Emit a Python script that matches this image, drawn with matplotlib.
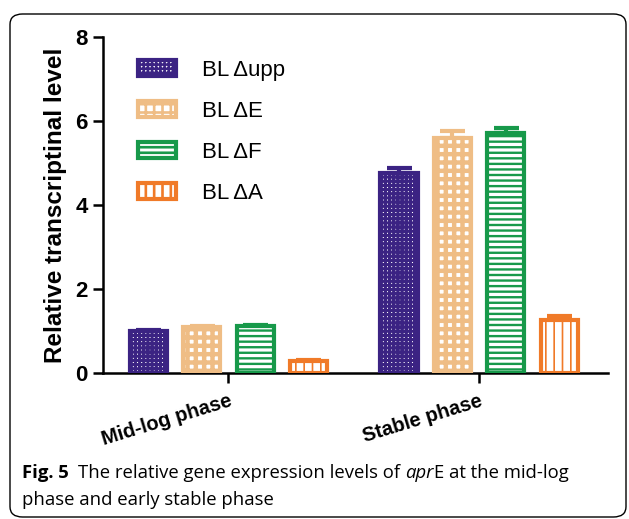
import matplotlib
matplotlib.use('Agg')
import matplotlib.pyplot as plt
import matplotlib.transforms as mtransforms
import numpy as np
from matplotlib.patches import FancyBboxPatch

# ---------------- data ----------------
phases = ['Mid-log phase', 'Stable phase']
strains = ['BL \u0394upp', 'BL \u0394E', 'BL \u0394F', 'BL \u0394A']
upp_vals = [0.99, 4.77]
e_vals = [1.09, 5.60]
f_vals = [1.11, 5.72]
a_vals = [0.28, 1.27]
upp_err = [0.03, 0.11]
e_err = [0.04, 0.16]
f_err = [0.04, 0.11]
a_err = [0.03, 0.09]
yticks = [0, 2, 4, 6, 8]
ylabel = 'Relative transcriptinal level'

# ---------------- style ----------------
colors = ['#3b2383', '#efbd85', '#17994a', '#f07a28']
hatches = ['++++', '++', '---', '||']
hatch_lw = [2.2, 3.2, 1.7, 1.2]

W, H = 629, 519
fig = plt.figure(figsize=(W / 100, H / 100), dpi=100)
fig.patch.set_facecolor('white')

# rounded frame around the figure
frame = FancyBboxPatch((10 / W, 1 - 517 / H), (626 - 10) / W, (517 - 14) / H,
                       boxstyle='round,pad=0,rounding_size=0.02',
                       transform=fig.transFigure, facecolor='none',
                       edgecolor='black', linewidth=1.0)
fig.patches.append(frame)

ax = fig.add_axes([103 / W, 1 - 373 / H, (608 - 103) / W, (373 - 37) / H])

series_vals = [upp_vals, e_vals, f_vals, a_vals]
series_err = [upp_err, e_err, f_err, a_err]
x = np.arange(len(phases))
step = 0.213
width = 0.148
for i, (vals, errs) in enumerate(zip(series_vals, series_err)):
    xi = x + (i - 1.5) * step
    with plt.rc_context({'hatch.linewidth': hatch_lw[i]}):
        bars = ax.bar(xi, vals, width=width, facecolor='white',
                      edgecolor=colors[i], hatch=hatches[i], linewidth=3.0,
                      label=strains[i], zorder=3)
        for b in bars:
            if hasattr(b, 'set_hatch_linewidth'):
                b.set_hatch_linewidth(hatch_lw[i])
    ax.errorbar(xi, vals, yerr=[np.zeros(len(vals)), errs], fmt='none',
                ecolor=colors[i], elinewidth=3, capsize=9, capthick=3,
                zorder=2)

ax.set_xlim(-0.5, 1.514)
ax.set_ylim(0, 8)
ax.set_yticks(yticks)
ax.set_yticklabels([str(t) for t in yticks], fontsize=16, fontweight='bold',
                   family='Liberation Sans')
ax.set_xticks(x)
ax.set_xticklabels(phases, rotation=17, ha='right', va='top',
                   rotation_mode='anchor', fontsize=14.5, fontweight='bold',
                   family='Liberation Sans')
shift = mtransforms.ScaledTranslation(-6 / 100, 2 / 100, fig.dpi_scale_trans)
for lab in ax.get_xticklabels():
    lab.set_transform(lab.get_transform() + shift)
ax.tick_params(axis='both', direction='out', length=7, width=1.8)
ax.tick_params(axis='x', pad=6)
ax.tick_params(axis='y', pad=4)
for s in ['top', 'right']:
    ax.spines[s].set_visible(False)
for s in ['left', 'bottom']:
    ax.spines[s].set_linewidth(1.8)
ax.set_ylabel(ylabel, fontsize=17.5, fontweight='bold', family='Liberation Sans',
              labelpad=6)

with plt.rc_context({'hatch.linewidth': 1.9}):
    leg = ax.legend(loc='upper left', bbox_to_anchor=(138 / W, 1 - 60 / H),
                    bbox_transform=fig.transFigure, frameon=False,
                    prop={'family': 'Liberation Sans', 'size': 16},
                    handlelength=1.7, handleheight=0.72, handletextpad=1.2,
                    labelspacing=0.9, borderpad=0, borderaxespad=0)

# ---------------- caption ----------------
fig.canvas.draw()
renderer = fig.canvas.get_renderer()
cap_font = 'Open Sans'
cap_size = 13.3


def put(xpx, ypx, txt, **kw):
    t = fig.text(xpx / W, 1 - ypx / H, txt, ha='left', va='baseline',
                 family=cap_font, fontsize=cap_size, **kw)
    bb = t.get_window_extent(renderer)
    return xpx + bb.width

space = 4.8
xx = put(22, 478, 'Fig. 5', fontweight='bold')
xx = put(xx + 2 * space, 478, 'The relative gene expression levels of')
xx = put(xx + space, 478, 'apr', style='italic')
xx = put(xx + 0.5, 478, 'E at the mid-log')
put(22, 505, 'phase and early stable phase')

fig.savefig('out.png', dpi=100, facecolor='white')
